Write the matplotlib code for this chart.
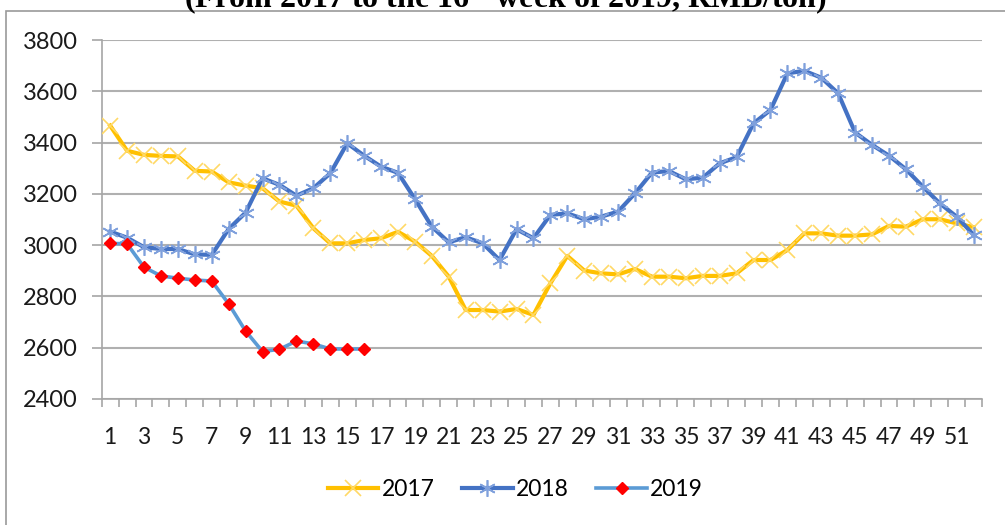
"""
Weekly price chart, 2017 - 2019 (RMB/ton)
"""
import matplotlib
matplotlib.use('Agg')
import matplotlib.pyplot as plt
from matplotlib.patches import Rectangle
import numpy as np

weeks = list(range(1, 53))

price_2017 = [3466, 3368, 3352, 3348, 3346, 3290, 3287, 3245, 3232, 3222,
              3170, 3154, 3066, 3007, 3007, 3020, 3027, 3052, 3014, 2958,
              2877, 2747, 2747, 2741, 2751, 2728, 2851, 2958, 2901, 2890,
              2886, 2907, 2877, 2877, 2871, 2880, 2880, 2890, 2942, 2942,
              2981, 3046, 3046, 3037, 3037, 3042, 3075, 3072, 3101, 3101,
              3085, 3070]
price_2018 = [3053, 3029, 2992, 2985, 2985, 2964, 2962, 3063, 3127, 3261,
              3235, 3193, 3222, 3280, 3397, 3349, 3306, 3282, 3180, 3072,
              3011, 3031, 3007, 2942, 3062, 3027, 3118, 3124, 3101, 3111,
              3131, 3202, 3283, 3289, 3257, 3263, 3319, 3343, 3475, 3527,
              3670, 3680, 3653, 3592, 3439, 3391, 3349, 3296, 3228, 3163,
              3111, 3040]
price_2019 = [3007, 3005, 2914, 2880, 2871, 2864, 2860, 2771, 2665, 2585,
              2594, 2626, 2615, 2595, 2595, 2595]

series_labels = ['2017', '2018', '2019']
yticks = [2400, 2600, 2800, 3000, 3200, 3400, 3600, 3800]
title = '(From 2017 to the 16$^{\\mathrm{th}}$ week of 2019, RMB/ton)'

plt.rcParams['font.family'] = ['Lato', 'DejaVu Sans']
plt.rcParams['mathtext.fontset'] = 'stix'

fig = plt.figure(figsize=(10.05, 5.25), dpi=100, facecolor='white')
ax = fig.add_axes([0.1012, 0.24, 0.876, 0.6838])

# outer chart border (clipped on the right and bottom like the screenshot)
fig.patches.append(Rectangle((6 / 1005, -0.05), 1.1, 1 - 11 / 525 + 0.05,
                             transform=fig.transFigure, fill=False,
                             edgecolor='#9a9a9a', linewidth=1.2))

# title is cut off at the top in the source image
fig.text(0.503, 1 - 7 / 525, title, ha='center', va='baseline',
         fontsize=23, fontweight='bold', family='Liberation Serif')

x17 = weeks[:len(price_2017)]
x18 = weeks[:len(price_2018)]
x19 = weeks[:len(price_2019)]

ax.plot(x17, price_2017, color='#FFC000', linewidth=3, marker='x',
        markersize=11, markeredgecolor='#FFD966', markeredgewidth=1.2,
        label=series_labels[0], zorder=3)
ax.plot(x18, price_2018, color='#4472C4', linewidth=3, marker=(6, 2, 0),
        markersize=12, markeredgecolor='#7FA0DC', markeredgewidth=1.2,
        label=series_labels[1], zorder=3)
ax.plot(x19, price_2019, color='#5B9BD5', linewidth=2.6, marker='D',
        markersize=6.5, markerfacecolor='#FF0000', markeredgecolor='#FF0000',
        label=series_labels[2], zorder=4)

ax.set_ylim(2400, 3800)
ax.set_yticks(yticks)
ax.set_xlim(0.5, 52.5)
ax.set_xticks(weeks[::2])
ax.set_xticks(np.arange(0.5, 53, 1), minor=True)
ax.tick_params(axis='x', which='major', length=0, labelsize=16.5, pad=20,
               colors='#1a1a1a')
ax.tick_params(axis='x', which='minor', length=6, width=1.2, color='#a6a6a6',
               direction='out')
ax.tick_params(axis='y', length=7, width=1.2, color='#a6a6a6',
               labelsize=17, labelcolor='#1a1a1a', pad=10)

ax.grid(axis='y', color='#b0b0b0', linewidth=1.5)
ax.set_axisbelow(True)
for sp in ['top', 'right']:
    ax.spines[sp].set_visible(False)
for sp in ['left', 'bottom']:
    ax.spines[sp].set_color('#a6a6a6')
    ax.spines[sp].set_linewidth(1.2)

leg = fig.legend(loc='center', bbox_to_anchor=(0.513, 1 - 490 / 525), ncol=3,
                 frameon=False, fontsize=16.5, handlelength=2.2,
                 handletextpad=0.15, columnspacing=1.2)

fig.savefig('out.png', dpi=100, facecolor='white')
